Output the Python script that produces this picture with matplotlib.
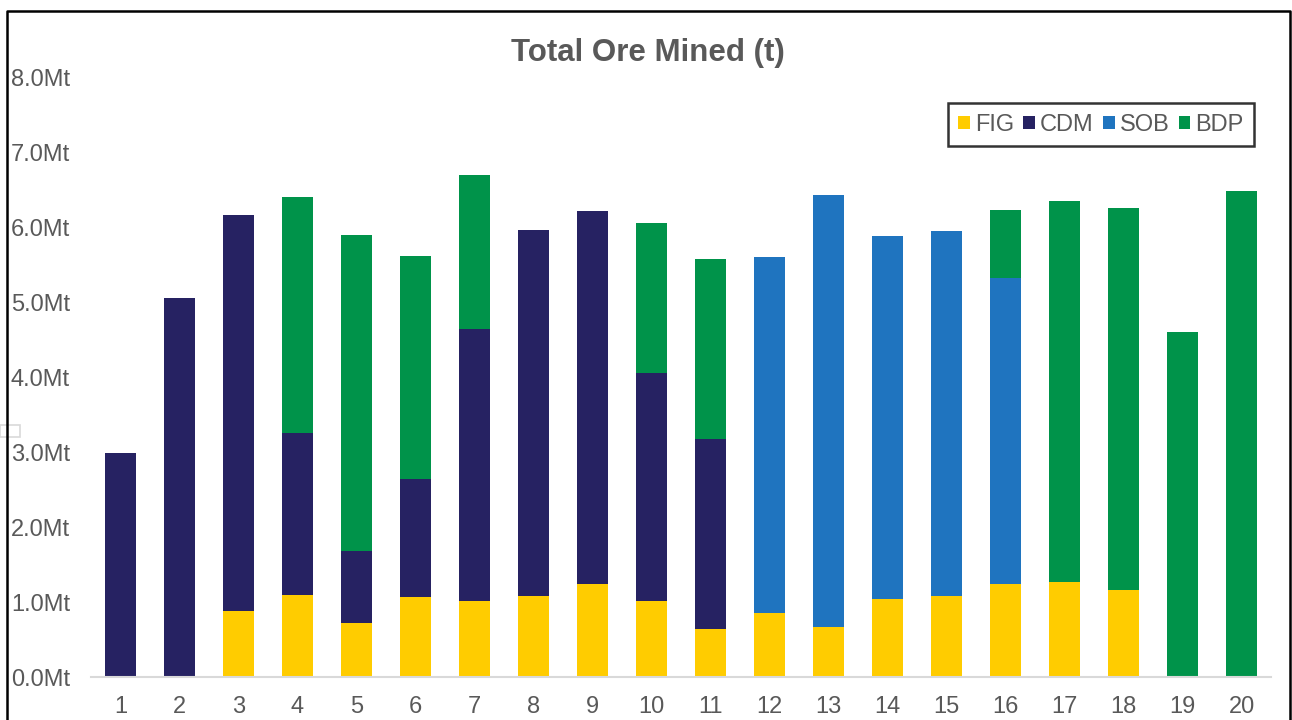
# plot_ore.py
# Stacked bar chart of total ore mined per period, split by source.

import numpy as np
import matplotlib.pyplot as plt
from matplotlib.lines import Line2D
from matplotlib.patches import Rectangle

plt.rcParams['font.family'] = ['Liberation Sans', 'DejaVu Sans']

PERIODS = [str(i) for i in range(1, 21)]

# tonnes (Mt) mined from each source per period
FIG = [0, 0, 0.88, 1.09, 0.72, 1.07, 1.01, 1.08, 1.24, 1.01,
       0.64, 0.85, 0.67, 1.04, 1.08, 1.24, 1.27, 1.16, 0, 0]
CDM = [2.99, 5.05, 5.28, 2.16, 0.96, 1.57, 3.63, 4.88, 4.97, 3.04,
       2.53, 0, 0, 0, 0, 0, 0, 0, 0, 0]
SOB = [0, 0, 0, 0, 0, 0, 0, 0, 0, 0,
       0, 4.75, 5.76, 4.84, 4.87, 4.08, 0, 0, 0, 0]
BDP = [0, 0, 0, 3.15, 4.21, 2.97, 2.05, 0, 0, 2.00,
       2.40, 0, 0, 0, 0, 0.91, 5.08, 5.09, 4.60, 6.48]

SERIES = [("FIG", FIG, "#FFCC00"),
          ("CDM", CDM, "#262262"),
          ("SOB", SOB, "#1F74BF"),
          ("BDP", BDP, "#00934A")]

TEXT = "#595959"


def main():
  fig = plt.figure(figsize=(12.92, 7.2), dpi=100)
  ax = fig.add_axes([0.0704, 0.0597, 0.9134, 0.8333])

  x = np.arange(len(PERIODS))
  bottom = np.zeros(len(PERIODS))
  for name, vals, color in SERIES:
    vals = np.array(vals)
    ax.bar(x, vals, width=0.525, bottom=bottom, color=color, label=name)
    bottom += vals

  ax.set_xlim(-0.5, len(PERIODS) - 0.5)
  ax.set_ylim(0, 8)
  ax.set_yticks(np.arange(0, 9))
  ax.set_yticklabels([f"{v:.1f}Mt" for v in range(9)])
  ax.set_xticks(x)
  ax.set_xticklabels(PERIODS)
  ax.tick_params(axis='both', length=0, labelsize=17, labelcolor=TEXT)
  ax.tick_params(axis='x', pad=14)
  ax.tick_params(axis='y', pad=15)

  for side in ("top", "right", "left"):
    ax.spines[side].set_visible(False)
  ax.spines["bottom"].set_color("#D9D9D9")
  ax.spines["bottom"].set_linewidth(1.5)

  fig.text(0.5015, 0.926, "Total Ore Mined (t)", ha="center", va="center",
           fontsize=22.5, fontweight="bold", color=TEXT)

  leg = ax.legend(loc="upper right", bbox_to_anchor=(0.9856, 0.9567), ncol=4,
                  fontsize=17, frameon=True, fancybox=False,
                  handlelength=0.5, handleheight=0.5, handletextpad=0.2,
                  columnspacing=0.4, borderpad=0.45, borderaxespad=0)
  leg.get_frame().set_edgecolor("black")
  leg.get_frame().set_linewidth(1.8)
  for t in leg.get_texts():
    t.set_color(TEXT)

  # outer frame (no bottom edge)
  fx = [7 / 1292, 7 / 1292, 1290 / 1292, 1290 / 1292]
  fy = [0, 1 - 10.5 / 720, 1 - 10.5 / 720, 0]
  fig.add_artist(Line2D(fx, fy, transform=fig.transFigure, color="black", lw=1.8))
  fig.add_artist(Rectangle((0, 1 - 437 / 720), 20 / 1292, 12 / 720,
                           transform=fig.transFigure, fill=False,
                           edgecolor="#D9D9D9", lw=1.2))

  fig.savefig("out.png", dpi=100)


if __name__ == "__main__":
  main()
